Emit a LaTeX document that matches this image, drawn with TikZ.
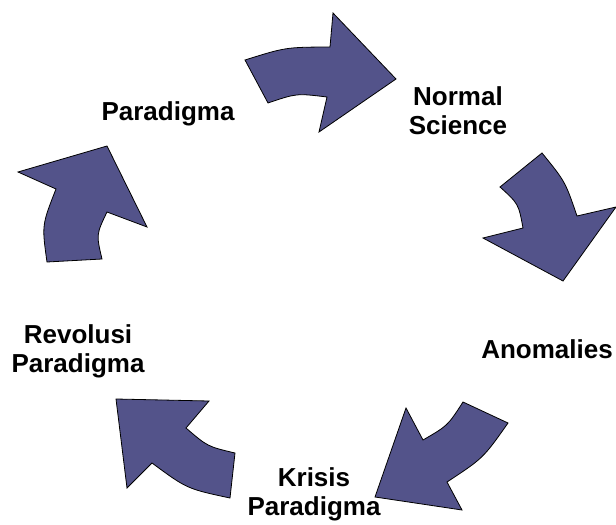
\documentclass[tikz,border=0pt]{standalone}
\usepackage{fontspec}
\setmainfont{Liberation Sans}
\usepackage{tikz}
\usepackage{xcolor}
\usetikzlibrary{positioning}
\definecolor{arrowfill}{RGB}{83,83,138}
\tikzset{
    cyclearrow/.style={fill=arrowfill, draw=black, line width=0.6pt, line join=miter},
    stagelabel/.style={font=\bfseries\fontsize{19.5}{21.8}\selectfont, align=center, inner sep=0pt}
}

\begin{document}
\begin{tikzpicture}[x=0.75pt, y=-0.75pt]
                    \useasboundingbox (0, 0) rectangle (616, 524);
                    \node[stagelabel] (pa) at (168, 114) {Paradigma};
                    \node[stagelabel] (ns) at (458, 111) {Normal\\Science};
                    \node[stagelabel, anchor=base] (an) at (547, 358) {Anomalies};
                    \node[stagelabel] (kp) at (314, 494) {Krisis\\Paradigma};
                    \node[stagelabel] (rp) at (78, 351) {Revolusi\\Paradigma};
                    \draw[cyclearrow]
                    (245, 60) .. controls (285.8, 47.2) .. (330, 47) -- (333, 13) -- (396, 79)
                    -- (319, 132) -- (327, 97) .. controls (296.5, 93.3) .. (268, 103) -- cycle;
                    \draw[cyclearrow]
                    (500, 187) -- (542, 153) .. controls (565.2, 181.5) .. (577, 216) -- (616, 207)
                    -- (563, 281) -- (483, 238) -- (523, 228) .. controls (518.5, 203.8) .. (500, 187) -- cycle;
                    \draw[cyclearrow]
                    (463, 402) -- (508, 423) .. controls (483.2, 458.2) .. (447, 482) -- (462, 510)
                    -- (375, 497) -- (406, 408) -- (423, 440) .. controls (447.7, 425.7) .. (463, 402) -- cycle;
                    \draw[cyclearrow]
                    (235, 453) -- (230, 498) .. controls (187, 488.8) .. (152, 463) -- (127, 488)
                    -- (116, 399) -- (209, 401) -- (186, 428) .. controls (207.5, 446.5) .. (235, 453) -- cycle;
                    \draw[cyclearrow]
                    (47, 262) -- (102, 259) .. controls (96.2, 234.5) .. (107, 212) -- (147, 227)
                    -- (107, 146) -- (18, 172) -- (56, 189) .. controls (41.8, 225.2) .. (47, 262) -- cycle;
                \end{tikzpicture}
\end{document}
